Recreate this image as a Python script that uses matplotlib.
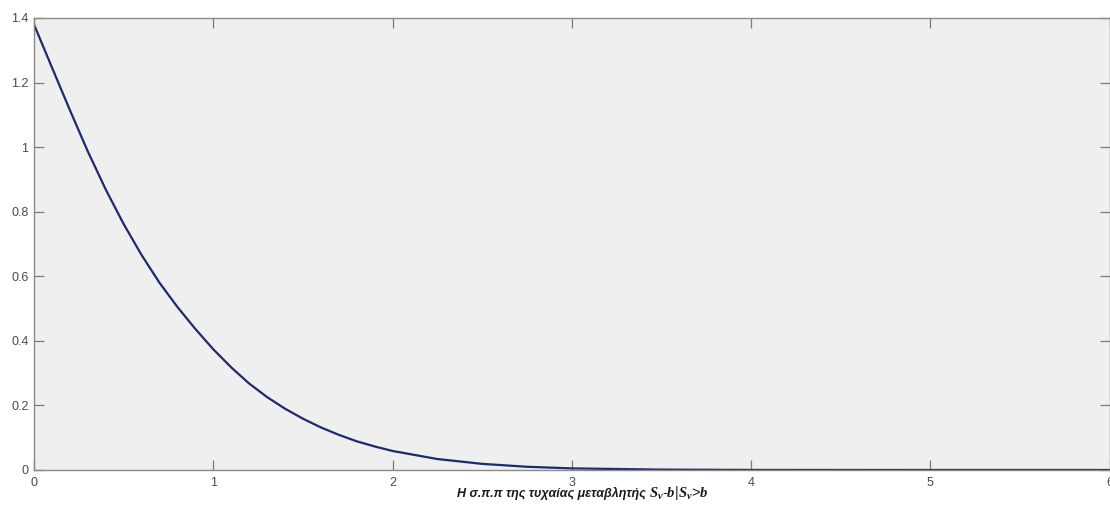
import numpy as np
import matplotlib.pyplot as plt

# 数值读自原图
x_vals = [0.0, 0.1, 0.2, 0.3, 0.4, 0.5, 0.6, 0.7, 0.8, 0.9,
          1.0, 1.1, 1.2, 1.3, 1.4, 1.5, 1.6, 1.7, 1.8, 1.9,
          2.0, 2.25, 2.5, 2.75, 3.0, 3.5, 4.0, 5.0, 6.0]
pdf_vals = [1.38, 1.247, 1.115, 0.987, 0.869, 0.762, 0.666, 0.58, 0.505, 0.437,
            0.374, 0.318, 0.268, 0.226, 0.19, 0.159, 0.132, 0.109, 0.089, 0.073,
            0.059, 0.034, 0.019, 0.010, 0.005, 0.0012, 0.0002, 0.0, 0.0]
x_ticks = [0, 1, 2, 3, 4, 5, 6]
y_ticks = [0, 0.2, 0.4, 0.6, 0.8, 1, 1.2, 1.4]
y_ticklabels = ['0', '0.2', '0.4', '0.6', '0.8', '1', '1.2', '1.4']
xlabel_text = 'Η σ.π.π της τυχαίας μεταβλητής '
xlabel_math = r'$S_v$-$b$|$S_v$>$b$'

plt.rcParams['font.family'] = ['Liberation Sans', 'DejaVu Sans']
plt.rcParams['mathtext.fontset'] = 'custom'
plt.rcParams['mathtext.rm'] = 'Liberation Serif:bold'
plt.rcParams['mathtext.it'] = 'Liberation Serif:italic:bold'

fig = plt.figure(figsize=(11.1, 5.13), dpi=100)
fig.patch.set_facecolor('white')
ax = fig.add_axes([34 / 1110, 1 - 470 / 513, (1109.5 - 34) / 1110, (470 - 18) / 513])
ax.set_facecolor('#efefef')

ax.plot(x_vals, pdf_vals, color='#1d2a6e', linewidth=1.6)

ax.set_xlim(0, 6)
ax.set_ylim(0, 1.4)
ax.set_xticks(x_ticks)
ax.set_xticklabels([str(t) for t in x_ticks])
ax.set_yticks(y_ticks)
ax.set_yticklabels(y_ticklabels)

for side in ['left', 'right', 'top', 'bottom']:
    ax.spines[side].set_color('#8a8a8a')
    ax.spines[side].set_linewidth(1.0)

ax.tick_params(axis='both', direction='in', length=7, width=0.9, color='#7a7a7a',
               labelsize=9, labelcolor='#4a4a4a', top=True, right=True)
ax.tick_params(axis='x', pad=5)
ax.tick_params(axis='y', pad=4)

# x 轴标签：希腊文部分 + 数学部分（字号更大）
t1 = fig.text(457 / 1110, 1 - 497 / 513, xlabel_text, fontsize=9, fontweight='bold',
              style='italic', color='#1a1a1a', ha='left', va='baseline')
fig.canvas.draw()
bb = t1.get_window_extent()
fig.text(bb.x1 / 1110, 1 - 497 / 513, xlabel_math, fontsize=10.5, color='#1a1a1a',
         ha='left', va='baseline')

plt.savefig('out.png', dpi=100)
plt.close()
